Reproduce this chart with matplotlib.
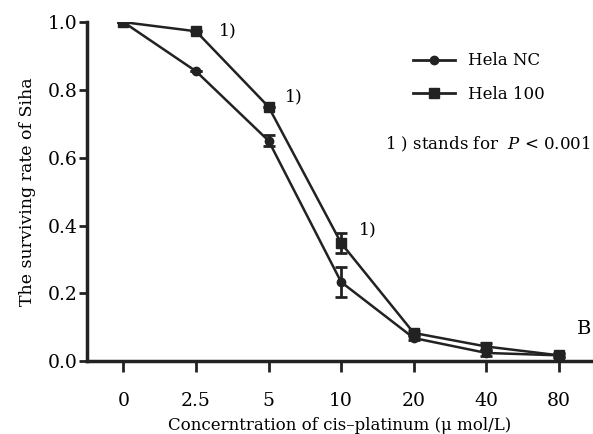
import matplotlib
matplotlib.use('Agg')
import matplotlib.pyplot as plt
from matplotlib.lines import Line2D
import numpy as np

plt.rcParams['font.family'] = ['DejaVu Serif']
plt.rcParams['mathtext.fontset'] = 'dejavuserif'

# 数据
doses = ['0', '2.5', '5', '10', '20', '40', '80']
nc_vals = [1.0, 0.855, 0.65, 0.233, 0.068, 0.024, 0.017]
nc_err = [0.0, 0.0, 0.016, 0.045, 0.006, 0.008, 0.004]
h100_vals = [1.0, 0.973, 0.75, 0.348, 0.083, 0.043, 0.017]
h100_err = [0.0, 0.0, 0.0, 0.03, 0.006, 0.01, 0.006]
sig_idx = [1, 2, 3]  # 1) 标注位置
sig_dy = [0.0, 0.03, 0.04]
sig_dx = [0.32, 0.23, 0.24]

x = np.arange(len(doses))
c = '#222222'

fig = plt.figure(figsize=(5.93, 4.34), dpi=100)
ax = fig.add_axes([0.147, 0.168, 0.853, 0.781])

ax.errorbar(x, nc_vals, yerr=nc_err, color=c, marker='o', ms=6,
            lw=1.8, capsize=4, capthick=2, elinewidth=2)
ax.errorbar(x, h100_vals, yerr=h100_err, color=c, marker='s', ms=6.5,
            lw=1.8, capsize=4, capthick=2, elinewidth=2)

for i, dx, dy in zip(sig_idx, sig_dx, sig_dy):
    ax.text(x[i] + dx, h100_vals[i] + dy, '1)', fontsize=12.5,
            va='center', ha='left')

ax.set_xlim(-0.5, 6.47)
ax.set_ylim(0, 1.0)
ax.set_xticks(x)
ax.set_xticklabels(doses)
ax.set_yticks([0, 0.2, 0.4, 0.6, 0.8, 1.0])
ax.set_yticklabels(['0.0', '0.2', '0.4', '0.6', '0.8', '1.0'])
ax.tick_params(axis='both', direction='out', width=2, labelsize=13.5, color=c)
ax.tick_params(axis='x', length=8, pad=14)
ax.tick_params(axis='y', length=6, pad=1)

for s in ['top', 'right']:
    ax.spines[s].set_visible(False)
for s in ['left', 'bottom']:
    ax.spines[s].set_linewidth(2.5)
    ax.spines[s].set_color(c)

ax.set_ylabel('The surviving rate of Siha', fontsize=12.5, labelpad=8)
ax.set_xlabel('Concerntration of cis\u2013platinum (\u03bc mol/L)', fontsize=12, labelpad=5)

handles = [Line2D([], [], color=c, marker='o', ms=6, lw=2),
           Line2D([], [], color=c, marker='s', ms=6.5, lw=2)]
ax.legend(handles, ['Hela NC', 'Hela 100'], loc='upper left',
          bbox_to_anchor=(0.615, 0.955), frameon=False,
          prop={'size': 12}, handlelength=2.5, handletextpad=0.8,
          labelspacing=1.0)

ax.text(0.588, 0.64, '1 ) stands for  $P$ < 0.001', transform=ax.transAxes,
        fontsize=12, ha='left', va='center')
ax.text(0.968, 0.095, 'B', transform=ax.transAxes, fontsize=14, ha='left', va='center')

fig.savefig('out.png', dpi=100)
